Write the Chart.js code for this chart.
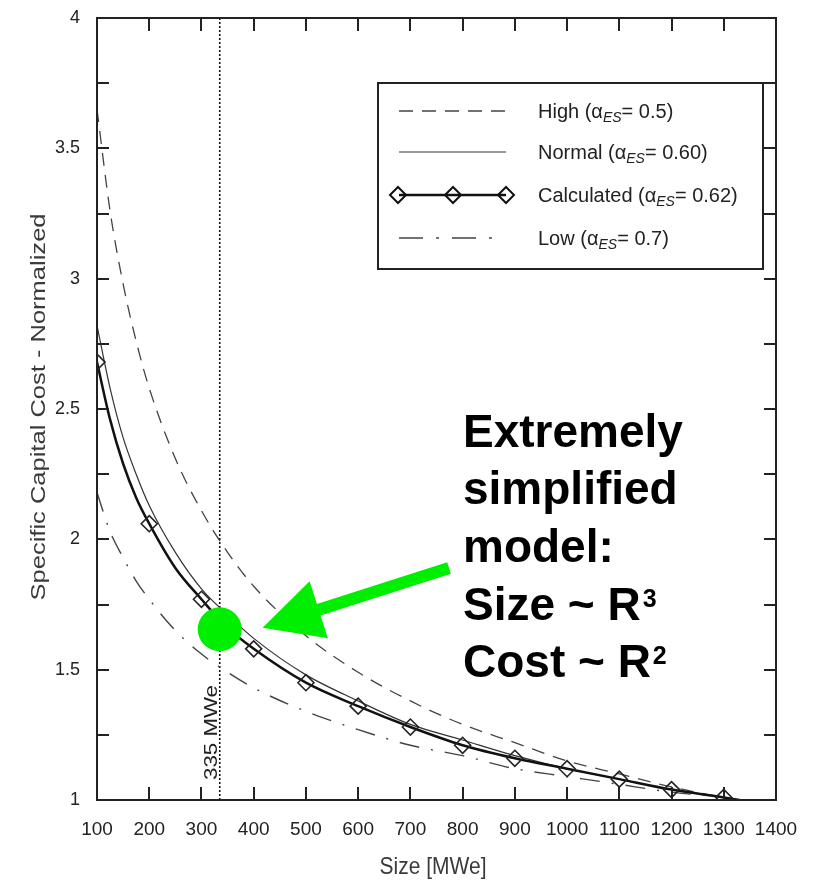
<!DOCTYPE html>
<html>
<head>
<meta charset="utf-8">
<script src="https://cdn.jsdelivr.net/npm/chart.js@4"></script>
<style>
html,body{margin:0;padding:0;background:#fff;}
#wrap{width:818px;height:883px;position:relative;}
</style>
</head>
<body>
<div id="wrap"><canvas id="c" width="818" height="883"></canvas></div>
<script>
// ---- data ----
const sizes      = [100, 125, 150, 175, 200, 250, 300, 350, 400, 500, 600, 700, 800, 900, 1000, 1100, 1200, 1300, 1330];
const high       = [3.65, 3.26, 2.98, 2.76, 2.58, 2.31, 2.11, 1.95, 1.82, 1.63, 1.49, 1.38, 1.29, 1.22, 1.15, 1.10, 1.05, 1.01, 1.00];
const normal     = [2.82, 2.58, 2.39, 2.25, 2.13, 1.95, 1.81, 1.71, 1.62, 1.48, 1.38, 1.29, 1.23, 1.17, 1.12, 1.08, 1.04, 1.01, 1.00];
const calculated = [2.68, 2.46, 2.29, 2.16, 2.06, 1.89, 1.77, 1.66, 1.58, 1.45, 1.36, 1.28, 1.21, 1.16, 1.12, 1.08, 1.04, 1.01, 1.00];
const low        = [2.18, 2.03, 1.93, 1.84, 1.77, 1.65, 1.56, 1.49, 1.43, 1.34, 1.27, 1.21, 1.17, 1.12, 1.09, 1.06, 1.03, 1.01, 1.00];
const calcMarkerSizes = [100, 200, 300, 400, 500, 600, 700, 800, 900, 1000, 1100, 1200, 1300];

const refSize = 335;              // vertical dotted reference line
const refPoint = [335, 1.655];    // green dot
const arrowTail = [774, 1.89];    // green arrow tail
const arrowTip  = [417, 1.661];   // green arrow tip

const xTicks = [100,200,300,400,500,600,700,800,900,1000,1100,1200,1300,1400];
const yMin = 1, yMax = 4, yStep = 0.25;

const legendItems = [
  {name:'High (', sub:'ES', tail:'= 0.5)'},
  {name:'Normal (', sub:'ES', tail:'= 0.60)'},
  {name:'Calculated (', sub:'ES', tail:'= 0.62)'},
  {name:'Low (', sub:'ES', tail:'= 0.7)'}
];
const noteLines = ['Extremely', 'simplified', 'model:', 'Size ~ R', 'Cost ~ R'];
const noteSups  = ['', '', '', '3', '2'];

const GREEN = '#00ee00';
const FONT = '"Liberation Sans", Arial, sans-serif';
const pts = arr => sizes.map((s,i)=>({x:s, y:arr[i]}));

function stretchedText(ctx, text, x, y, angle, font, targetLen, align){
  ctx.save();
  ctx.translate(x, y);
  ctx.rotate(angle);
  ctx.font = font;
  const w = ctx.measureText(text).width;
  ctx.scale(targetLen / w, 1);
  ctx.textAlign = align; ctx.textBaseline = 'alphabetic';
  ctx.fillText(text, 0, 0);
  ctx.restore();
}

const overlay = {
  id:'overlay',
  afterDatasetsDraw(chart){
    const ctx = chart.ctx, xs = chart.scales.x, ys = chart.scales.y, a = chart.chartArea;
    ctx.save();
    // frame
    ctx.strokeStyle = '#222'; ctx.lineWidth = 2;
    ctx.strokeRect(a.left, a.top, a.right - a.left, a.bottom - a.top);
    // inward ticks
    ctx.beginPath();
    xTicks.forEach(v=>{
      const px = Math.round(xs.getPixelForValue(v));
      ctx.moveTo(px, a.bottom); ctx.lineTo(px, a.bottom - 13);
      ctx.moveTo(px, a.top); ctx.lineTo(px, a.top + 13);
    });
    for(let v=yMin; v<=yMax+1e-9; v+=yStep){
      const py = Math.round(ys.getPixelForValue(v));
      ctx.moveTo(a.left, py); ctx.lineTo(a.left + 12, py);
      ctx.moveTo(a.right, py); ctx.lineTo(a.right - 12, py);
    }
    ctx.stroke();

    // green arrow
    const tx = xs.getPixelForValue(arrowTail[0]), ty = ys.getPixelForValue(arrowTail[1]);
    const hx = xs.getPixelForValue(arrowTip[0]), hy = ys.getPixelForValue(arrowTip[1]);
    const dx = hx - tx, dy = hy - ty, L = Math.hypot(dx, dy);
    const ux = dx / L, uy = dy / L, nx = -uy, ny = ux;
    const headLen = 59, headHalf = 30, shaftHalf = 6;
    const bx = hx - ux*headLen, by = hy - uy*headLen;
    ctx.fillStyle = GREEN;
    ctx.beginPath();
    ctx.moveTo(tx + nx*shaftHalf, ty + ny*shaftHalf);
    ctx.lineTo(bx + nx*shaftHalf, by + ny*shaftHalf);
    ctx.lineTo(bx + nx*headHalf, by + ny*headHalf);
    ctx.lineTo(hx, hy);
    ctx.lineTo(bx - nx*headHalf, by - ny*headHalf);
    ctx.lineTo(bx - nx*shaftHalf, by - ny*shaftHalf);
    ctx.lineTo(tx - nx*shaftHalf, ty - ny*shaftHalf);
    ctx.closePath();
    ctx.fill();

    // 335 MWe label
    const rx = xs.getPixelForValue(refSize);
    ctx.fillStyle = '#222';
    stretchedText(ctx, '335 MWe', rx - 3, a.bottom - 20, -Math.PI/2, '19px ' + FONT, 95, 'left');
    ctx.restore();
  },
  afterDraw(chart){
    const ctx = chart.ctx;
    ctx.save();
    // axis titles
    ctx.fillStyle = '#3a3a3a';
    ctx.save();
    ctx.translate(433, 874);
    ctx.scale(1, 1.15);
    ctx.font = '21px ' + FONT;
    ctx.textAlign = 'center'; ctx.textBaseline = 'alphabetic';
    ctx.fillText('Size [MWe]', 0, 0);
    ctx.restore();
    stretchedText(ctx, 'Specific Capital Cost - Normalized', 45, 407, -Math.PI/2, '20px ' + FONT, 387, 'center');

    // legend box
    const L = {x:378, y:83, w:385, h:186};
    ctx.fillStyle = '#fff';
    ctx.fillRect(L.x, L.y, L.w, L.h);
    ctx.strokeStyle = '#222'; ctx.lineWidth = 2;
    ctx.strokeRect(L.x, L.y, L.w, L.h);
    const rowY = [111, 152, 195, 238];
    const styles = chart.data.datasets.filter(d=>d.legendIndex!==undefined).sort((p,q)=>p.legendIndex-q.legendIndex);
    styles.forEach((d,i)=>{
      const y = rowY[i];
      ctx.save();
      ctx.strokeStyle = d.borderColor; ctx.lineWidth = d.borderWidth;
      ctx.setLineDash(d.legendDash || d.borderDash || []);
      ctx.beginPath(); ctx.moveTo(399, y); ctx.lineTo(i===3?495:506, y); ctx.stroke();
      ctx.setLineDash([]);
      if(d.legendMarkers){
        ctx.lineWidth = 2;
        [398, 453, 506].forEach(mx=>{
          ctx.beginPath();
          ctx.moveTo(mx-8, y); ctx.lineTo(mx, y-8); ctx.lineTo(mx+8, y); ctx.lineTo(mx, y+8); ctx.closePath();
          ctx.stroke();
        });
      }
      ctx.restore();
      // text
      const it = legendItems[i];
      let x = 538; const by = y + 7;
      ctx.fillStyle = '#222'; ctx.textAlign = 'left'; ctx.textBaseline = 'alphabetic';
      ctx.font = '20px ' + FONT;
      ctx.fillText(it.name, x, by); x += ctx.measureText(it.name).width;
      ctx.fillText('\u03B1', x, by); x += ctx.measureText('\u03B1').width;
      ctx.font = 'italic 14px ' + FONT;
      ctx.fillText(it.sub, x, by + 4); x += ctx.measureText(it.sub).width;
      ctx.font = '20px ' + FONT;
      ctx.fillText(it.tail, x, by);
    });

    // annotation text
    const base = [447, 504, 562, 620, 677];
    ctx.fillStyle = '#000'; ctx.textAlign = 'left'; ctx.textBaseline = 'alphabetic';
    noteLines.forEach((t,i)=>{
      ctx.font = 'bold 46px ' + FONT;
      ctx.fillText(t, 463, base[i]);
      if(noteSups[i]){
        const w = ctx.measureText(t).width;
        ctx.font = 'bold 25px ' + FONT;
        ctx.fillText(noteSups[i], 463 + w + 2, base[i] - 13);
      }
    });
    ctx.restore();
  }
};

new Chart(document.getElementById('c'), {
  type:'line',
  data:{
    datasets:[
      {label:'dot', data:[{x:refPoint[0], y:refPoint[1]}], showLine:false, pointRadius:22, pointHoverRadius:22,
       pointBackgroundColor:GREEN, pointBorderColor:GREEN, pointBorderWidth:0, order:0},
      {label:'High', legendIndex:0, data:pts(high), borderColor:'#444', borderWidth:1.3, borderDash:[13,9], legendDash:[14,9],
       pointRadius:0, cubicInterpolationMode:'monotone', fill:false, order:2},
      {label:'Normal', legendIndex:1, data:pts(normal), borderColor:'#333', borderWidth:1.2,
       pointRadius:0, cubicInterpolationMode:'monotone', fill:false, order:2},
      {label:'Calculated', legendIndex:2, legendMarkers:true, data:pts(calculated), borderColor:'#111', borderWidth:2.5,
       pointStyle:'rectRot', pointRadius:sizes.map(s=>calcMarkerSizes.includes(s)?8:0),
       pointBorderColor:'#222', pointBackgroundColor:'rgba(0,0,0,0)', pointBorderWidth:1.6,
       cubicInterpolationMode:'monotone', fill:false, order:1},
      {label:'Low', legendIndex:3, data:pts(low), borderColor:'#444', borderWidth:1.4, borderDash:[20,12,2,12], legendDash:[24,13,3,13],
       pointRadius:0, cubicInterpolationMode:'monotone', fill:false, order:2},
      {label:'ref', data:[{x:refSize, y:yMin}, {x:refSize, y:yMax}], borderColor:'#111', borderWidth:1.6, borderDash:[2,2],
       pointRadius:0, fill:false, order:3}
    ]
  },
  options:{
    responsive:false, animation:false, events:[],
    layout:{autoPadding:false, padding:{top:18, right:42, left:0, bottom:0}},
    plugins:{legend:{display:false}, tooltip:{enabled:false}},
    scales:{
      x:{type:'linear', min:100, max:1400,
         afterBuildTicks(s){ s.ticks = xTicks.map(v=>({value:v})); },
         afterFit(s){ s.height = 83; s.paddingLeft = 0; s.paddingRight = 0; },
         grid:{display:false, drawTicks:false}, border:{display:false},
         ticks:{autoSkip:false, maxRotation:0, padding:18, color:'#222',
                font:{family:FONT, size:19},
                callback:v=>String(v)}},
      y:{type:'linear', min:yMin, max:yMax,
         afterFit(s){ s.width = 97; s.paddingTop = 0; s.paddingBottom = 0; },
         grid:{display:false, drawTicks:false}, border:{display:false},
         ticks:{stepSize:yStep, autoSkip:false, padding:17, color:'#222',
                font:{family:FONT, size:18},
                callback:v=>(Math.abs(v*2 - Math.round(v*2))<1e-9 ? String(v) : '')}}
    }
  },
  plugins:[overlay]
});
</script>
</body>
</html>
